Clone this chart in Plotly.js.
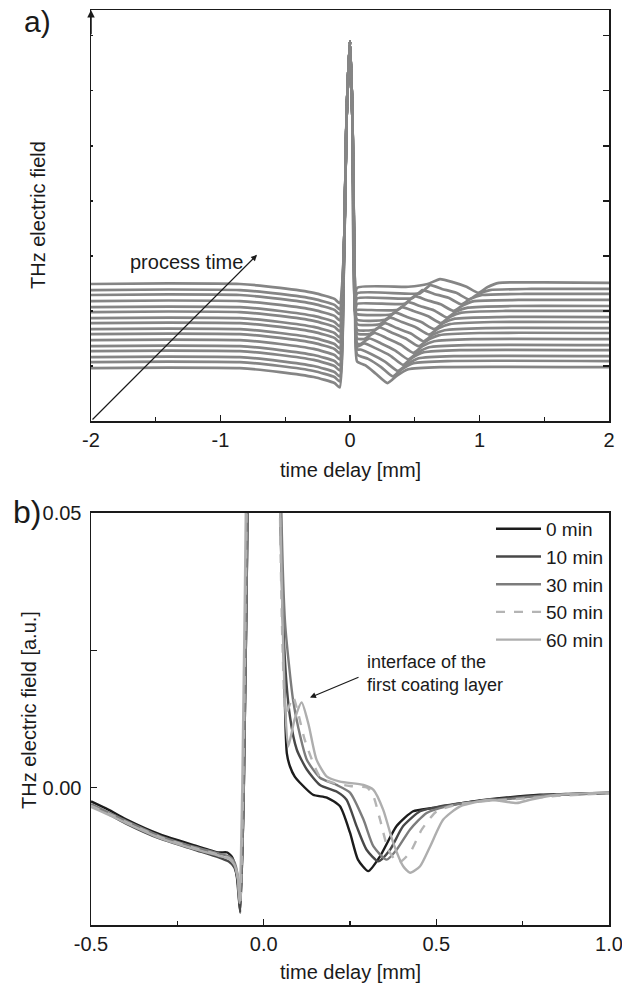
<!DOCTYPE html>
<html>
<head>
<meta charset="utf-8">
<script src="https://cdn.plot.ly/plotly-3.0.1.min.js"></script>
<style>html,body{margin:0;padding:0;background:#fff}#chart{width:622px;height:990px}</style>
</head>
<body>
<div id="chart"></div>
<script>
// ---------- Panel a) : waterfall of THz traces during coating ----------
// baseline level of every trace (bottom = start of process, top = end)
const aBaseline = [0.96, 1.07, 1.16, 1.27, 1.36, 1.47, 1.58, 1.67, 1.78, 1.87, 1.98, 2.07, 2.18, 2.29, 2.38, 2.49];
// part before the main pulse (relative to baseline)
const aPreX = [-2, -1.4, -0.85, -0.54, -0.28, -0.12, -0.08];
const aPreY = [0, 0.01, 0, -0.07, -0.16, -0.27, -0.35];
// main pulse (absolute field)
const aPulseX = [-0.045, -0.027, 0, 0.019, 0.04];
const aPulseY = [3.2, 5.47, 6.9, 5.47, 2.0];
// part after the main pulse, one list per trace (relative to baseline)
const aPostX = [
  [0.055, 0.12, 0.2, 0.29, 0.36, 0.45, 0.7, 2],
  [0.055, 0.14, 0.24, 0.33, 0.40, 0.49, 0.75, 2],
  [0.055, 0.08, 0.17, 0.27, 0.37, 0.44, 0.53, 0.8, 2],
  [0.055, 0.11, 0.2, 0.31, 0.41, 0.48, 0.57, 0.85, 2],
  [0.055, 0.08, 0.15, 0.24, 0.35, 0.45, 0.52, 0.61, 0.9, 2],
  [0.055, 0.11, 0.19, 0.28, 0.39, 0.49, 0.56, 0.65, 0.95, 2],
  [0.055, 0.15, 0.23, 0.32, 0.43, 0.53, 0.60, 0.69, 1.0, 2],
  [0.055, 0.19, 0.27, 0.36, 0.47, 0.57, 0.64, 0.73, 1.05, 2],
  [0.055, 0.23, 0.31, 0.40, 0.51, 0.61, 0.68, 0.77, 1.1, 2],
  [0.055, 0.27, 0.35, 0.44, 0.55, 0.65, 0.72, 0.81, 1.15, 2],
  [0.055, 0.32, 0.40, 0.49, 0.60, 0.70, 0.77, 0.86, 1.2, 2],
  [0.055, 0.37, 0.45, 0.54, 0.65, 0.75, 0.82, 0.91, 1.25, 2],
  [0.055, 0.42, 0.50, 0.59, 0.70, 0.80, 0.87, 0.96, 1.3, 2],
  [0.055, 0.48, 0.56, 0.65, 0.76, 0.86, 0.93, 1.02, 1.35, 2],
  [0.055, 0.54, 0.62, 0.71, 0.82, 0.92, 0.99, 1.08, 1.4, 2],
  [0.055, 0.45, 0.6, 0.695, 0.8, 0.9, 0.99, 1.06, 1.15, 1.5, 2]
];
const aPostY = [
  [0.12, 0.05, -0.1, -0.27, -0.14, -0.02, 0.02, 0.02],
  [0.14, 0.06, -0.09, -0.26, -0.13, -0.02, 0.02, 0.02],
  [0.14, 0.14, 0.05, -0.08, -0.25, -0.13, -0.02, 0.02, 0.02],
  [0.08, 0.14, 0.05, -0.08, -0.25, -0.12, -0.02, 0.02, 0.02],
  [0.05, 0.04, 0.14, 0.05, -0.08, -0.24, -0.12, -0.02, 0.02, 0.02],
  [0.03, 0.02, 0.13, 0.04, -0.08, -0.23, -0.11, -0.02, 0.02, 0.02],
  [0.01, 0.0, 0.12, 0.03, -0.08, -0.22, -0.11, -0.02, 0.02, 0.02],
  [-0.01, -0.01, 0.11, 0.02, -0.08, -0.22, -0.10, -0.02, 0.02, 0.02],
  [-0.02, -0.02, 0.10, 0.02, -0.08, -0.21, -0.10, -0.02, 0.02, 0.02],
  [-0.03, -0.03, 0.10, 0.02, -0.07, -0.20, -0.09, -0.01, 0.02, 0.02],
  [-0.04, -0.04, 0.09, 0.02, -0.07, -0.20, -0.09, -0.01, 0.02, 0.02],
  [-0.05, -0.05, 0.09, 0.02, -0.06, -0.19, -0.08, -0.01, 0.02, 0.02],
  [-0.05, -0.05, 0.09, 0.02, -0.06, -0.18, -0.08, 0.0, 0.02, 0.02],
  [-0.06, -0.06, 0.09, 0.02, -0.05, -0.17, -0.07, 0.0, 0.02, 0.02],
  [-0.06, -0.06, 0.09, 0.02, -0.05, -0.17, -0.07, 0.0, 0.02, 0.02],
  [-0.07, -0.05, 0.0, 0.09, 0.03, -0.05, -0.16, -0.06, 0.02, 0.03, 0.02]
];
const aTickVals = [-2, -1, 0, 1, 2];
const aTickText = ['-2', '-1', '0', '1', '2'];

// ---------- Panel b) : selected traces ----------
const bNames = ['0 min', '10 min', '30 min', '50 min', '60 min'];
const bColors = ['#1c1c1c', '#484848', '#7c7c7c', '#b4b4b4', '#aeaeae'];
const bDash = ['solid', 'solid', 'solid', 'dash', 'solid'];
const bX = [
  [-0.5, -0.45, -0.4, -0.3, -0.2, -0.13, -0.105, -0.09, -0.078, -0.068, -0.058, -0.045, 0, 0.045, 0.058, 0.067, 0.076, 0.09, 0.105, 0.143, 0.183, 0.221, 0.25, 0.273, 0.303, 0.337, 0.385, 0.433, 0.49, 0.606, 0.704, 0.8, 0.9, 1.0],
  [-0.5, -0.45, -0.4, -0.3, -0.2, -0.13, -0.1, -0.085, -0.075, -0.068, -0.058, -0.045, 0, 0.047, 0.06, 0.076, 0.096, 0.125, 0.163, 0.211, 0.24, 0.269, 0.298, 0.332, 0.366, 0.404, 0.453, 0.511, 0.6, 0.7, 0.8, 0.9, 1.0],
  [-0.5, -0.45, -0.4, -0.3, -0.2, -0.13, -0.1, -0.085, -0.075, -0.068, -0.058, -0.045, 0, 0.048, 0.062, 0.085, 0.1, 0.125, 0.163, 0.211, 0.25, 0.289, 0.318, 0.356, 0.385, 0.424, 0.472, 0.53, 0.62, 0.72, 0.8, 0.9, 1.0],
  [-0.5, -0.45, -0.4, -0.3, -0.2, -0.13, -0.1, -0.085, -0.075, -0.068, -0.06, -0.048, 0, 0.045, 0.055, 0.065, 0.085, 0.1, 0.12, 0.163, 0.2, 0.25, 0.3, 0.318, 0.337, 0.361, 0.39, 0.424, 0.458, 0.501, 0.559, 0.65, 0.75, 0.85, 1.0],
  [-0.5, -0.45, -0.4, -0.3, -0.2, -0.13, -0.1, -0.085, -0.075, -0.07, -0.062, -0.05, 0, 0.045, 0.055, 0.062, 0.071, 0.09, 0.11, 0.13, 0.153, 0.183, 0.221, 0.289, 0.318, 0.346, 0.375, 0.404, 0.424, 0.453, 0.482, 0.52, 0.569, 0.655, 0.733, 0.771, 0.849, 1.0]
];
const bY = [
  [-0.0025, -0.004, -0.0057, -0.0085, -0.0105, -0.0118, -0.0118, -0.0128, -0.016, -0.0225, -0.002, 0.06, 0.45, 0.06, 0.025, 0.0063, 0.0039, 0.002, 0.0009, -0.0013, -0.0018, -0.0034, -0.0082, -0.0131, -0.0152, -0.0125, -0.007, -0.0043, -0.0037, -0.0025, -0.0018, -0.0013, -0.0011, -0.0009],
  [-0.0032, -0.0048, -0.0065, -0.0093, -0.0113, -0.0127, -0.0135, -0.0145, -0.017, -0.0228, -0.002, 0.06, 0.45, 0.06, 0.025, 0.013, 0.0069, 0.0033, 0.0005, -0.0007, -0.0022, -0.007, -0.0113, -0.0134, -0.0113, -0.007, -0.0043, -0.0034, -0.0026, -0.0019, -0.0014, -0.0012, -0.001],
  [-0.003, -0.0045, -0.006, -0.0088, -0.0108, -0.012, -0.0125, -0.0135, -0.016, -0.021, -0.002, 0.06, 0.45, 0.06, 0.03, 0.016, 0.011, 0.0051, 0.0018, 0.0005, -0.0009, -0.0058, -0.0107, -0.0131, -0.0113, -0.0076, -0.0046, -0.0034, -0.0025, -0.002, -0.0015, -0.0012, -0.001],
  [-0.0033, -0.0047, -0.0062, -0.009, -0.011, -0.0122, -0.0128, -0.0138, -0.0163, -0.021, -0.002, 0.06, 0.45, 0.06, 0.025, 0.0135, 0.0165, 0.0135, 0.0085, 0.002, 0.0009, 0.0003, 0.0, -0.0016, -0.0058, -0.0113, -0.0137, -0.0118, -0.0076, -0.0043, -0.0031, -0.0024, -0.002, -0.0015, -0.001],
  [-0.0035, -0.0049, -0.0064, -0.0092, -0.0112, -0.0124, -0.013, -0.014, -0.0165, -0.021, 0.0, 0.06, 0.45, 0.06, 0.03, 0.015, 0.0075, 0.0125, 0.0155, 0.0115, 0.0051, 0.002, 0.0011, 0.0005, -0.0004, -0.004, -0.010, -0.0143, -0.0155, -0.0143, -0.0107, -0.0058, -0.0034, -0.0022, -0.0028, -0.0022, -0.0013, -0.0009]
];
const bTickVals = [-0.5, 0, 0.5, 1.0];
const bTickText = ['-0.5', '0.0', '0.5', '1.0'];

const FONT = 'Arial, "Liberation Sans", Helvetica, sans-serif';
const traces = [];
aBaseline.forEach((b, i) => {
  traces.push({
    type: 'scatter', mode: 'lines', xaxis: 'x', yaxis: (i === aBaseline.length - 1 ? 'y2' : 'y'),
    showlegend: false, hoverinfo: 'skip',
    x: aPreX.concat(aPulseX, aPostX[i]),
    y: aPreY.map(v => v + b).concat(aPulseY, aPostY[i].map(v => v + b)),
    line: {color: '#858585', width: 2.7, shape: 'spline', smoothing: 0.5}
  });
});
bNames.forEach((n, i) => {
  traces.push({
    type: 'scatter', mode: 'lines', xaxis: 'x2', yaxis: 'y3', name: n,
    x: bX[i], y: bY[i],
    line: {color: bColors[i], width: 2.4, dash: bDash[i], shape: 'spline', smoothing: 0.6}
  });
});

const axBase = {
  showline: true, linecolor: '#1a1a1a', linewidth: 1.5, mirror: true,
  ticks: 'inside', tickcolor: '#1a1a1a', tickwidth: 1.2, showgrid: false, zeroline: false,
  tickfont: {family: FONT, size: 20, color: '#1a1a1a'}, ticklabeloverflow: 'allow'
};

const layout = {
  width: 622, height: 990,
  margin: {l: 91, r: 13, t: 10, b: 65},
  paper_bgcolor: '#fff', plot_bgcolor: '#fff',
  font: {family: FONT, size: 20, color: '#1a1a1a'},
  xaxis: Object.assign({}, axBase, {
    domain: [0, 1], anchor: 'y', range: [-2, 2], tickvals: aTickVals, ticktext: aTickText, ticklen: 6,
    minor: {tickvals: [-1.5, -0.5, 0.5, 1.5], ticklen: 4, ticks: 'inside', tickcolor: '#1a1a1a'}
  }),
  yaxis: Object.assign({}, axBase, {
    domain: [0.5508, 1], anchor: 'x', range: [0, 7.47], dtick: 1, tick0: 0,
    showticklabels: false, ticklen: 2, mirror: false
  }),
  yaxis2: Object.assign({}, axBase, {
    overlaying: 'y', side: 'right', anchor: 'x', range: [0, 7.47], dtick: 1, tick0: 0,
    showticklabels: false, ticklen: 6, mirror: false
  }),
  xaxis2: Object.assign({}, axBase, {
    domain: [0, 1], anchor: 'y3', range: [-0.5, 1.0], tickvals: bTickVals,
    ticktext: bTickText, ticklen: 6,
    minor: {tickvals: [-0.25, 0.25, 0.75], ticklen: 4, ticks: 'inside', tickcolor: '#1a1a1a'}
  }),
  yaxis3: Object.assign({}, axBase, {
    domain: [0, 0.4503], anchor: 'x2', range: [-0.025, 0.05],
    tickvals: [-0.025, 0, 0.025, 0.05], ticktext: ['', '0.00', '', '0.05'], ticklen: 6,
    ticklabelstandoff: 4
  }),
  showlegend: true,
  legend: {
    x: 1, xanchor: 'right', y: 0.4536, yanchor: 'top', bgcolor: 'rgba(0,0,0,0)',
    font: {family: FONT, size: 19, color: '#1a1a1a'}, itemwidth: 45, tracegroupgap: 0
  },
  annotations: [
    {xref: 'paper', yref: 'paper', x: -0.104, y: 0.987, text: 'a)', showarrow: false,
     font: {family: FONT, size: 30, color: '#1a1a1a'}, xanchor: 'center', yanchor: 'middle'},
    {xref: 'paper', yref: 'paper', x: -0.1236, y: 0.4514, text: 'b)', showarrow: false,
     font: {family: FONT, size: 32, color: '#1a1a1a'}, xanchor: 'center', yanchor: 'middle'},
    {xref: 'paper', yref: 'paper', x: -0.1023, y: 0.776, text: 'THz electric field', textangle: -90,
     showarrow: false, xanchor: 'center', yanchor: 'middle', font: {family: FONT, size: 20, color: '#1a1a1a'}},
    {xref: 'paper', yref: 'paper', x: -0.1197, y: 0.235, text: 'THz electric field [a.u.]', textangle: -90,
     showarrow: false, xanchor: 'center', yanchor: 'middle', font: {family: FONT, size: 20, color: '#1a1a1a'}},
    {xref: 'paper', yref: 'paper', x: 0.5, y: 0.4973, text: 'time delay [mm]', showarrow: false,
     xanchor: 'center', yanchor: 'middle', font: {family: FONT, size: 20, color: '#1a1a1a'}},
    {xref: 'paper', yref: 'paper', x: 0.5, y: -0.0514, text: 'time delay [mm]', showarrow: false,
     xanchor: 'center', yanchor: 'middle', font: {family: FONT, size: 20, color: '#1a1a1a'}},
    // process time arrow
    {xref: 'x', yref: 'y', axref: 'x', ayref: 'y', x: -0.718, y: 3.02, ax: -2, ay: 0, text: '',
     showarrow: true, arrowhead: 2, arrowsize: 1, arrowwidth: 1.2, arrowcolor: '#1a1a1a', standoff: 0, startstandoff: 0},
    {xref: 'x', yref: 'y', x: -1.714, y: 2.89, text: 'process time', showarrow: false,
     xanchor: 'left', yanchor: 'middle', font: {family: FONT, size: 20, color: '#1a1a1a'}},
    // arrowhead on left axis of panel a
    {xref: 'x', yref: 'y', axref: 'x', ayref: 'y', x: -2, y: 7.47, ax: -2, ay: 7.0, text: '',
     showarrow: true, arrowhead: 2, arrowsize: 1, arrowwidth: 1.5, arrowcolor: '#1a1a1a', standoff: 0},
    // interface annotation in panel b
    {xref: 'x2', yref: 'y3', axref: 'x2', ayref: 'y3', x: 0.134, y: 0.0164, ax: 0.279, ay: 0.0202, text: '',
     showarrow: true, arrowhead: 2, arrowsize: 1, arrowwidth: 1.2, arrowcolor: '#1a1a1a', standoff: 0},
    {xref: 'x2', yref: 'y3', x: 0.292, y: 0.0208, text: 'interface of the<br>first coating layer', showarrow: false,
     xanchor: 'left', yanchor: 'middle', align: 'left', font: {family: FONT, size: 18, color: '#1a1a1a'}}
  ]
};

Plotly.newPlot('chart', traces, layout, {staticPlot: true, displayModeBar: false});
</script>
</body>
</html>
